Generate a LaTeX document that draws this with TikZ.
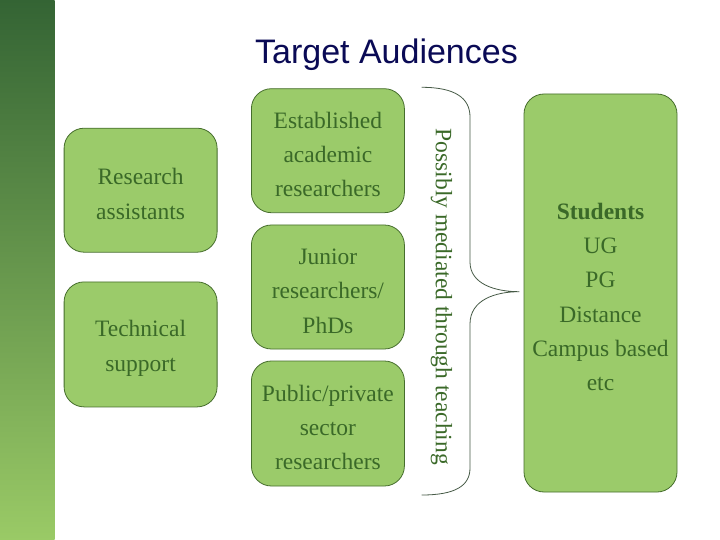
\documentclass[tikz,border=0pt]{standalone}
\usepackage{fontspec}
\setmainfont{Liberation Serif}
\newfontfamily\titlefont{Liberation Sans}
\definecolor{barTop}{RGB}{52,100,52}
\definecolor{barBot}{RGB}{154,202,102}
\definecolor{boxFill}{RGB}{155,203,106}
\definecolor{boxLine}{RGB}{70,110,45}
\definecolor{boxText}{RGB}{58,105,40}
\definecolor{titleCol}{RGB}{10,10,85}
\definecolor{braceCol}{RGB}{70,90,70}
\newcommand{\tallstrut}{\rule{0pt}{24pt}}
\begin{document}
\begin{tikzpicture}[x=1pt,y=-1pt,
  gbox/.style={draw=boxLine, line width=0.8pt, fill=boxFill, rounded corners=20pt,
    text=boxText, align=center, inner sep=0pt,
    font=\fontsize{23.5}{34.3}\selectfont},
  small/.style={gbox, minimum width=153pt, minimum height=124pt},
  bracepath/.style={draw=braceCol, line width=0.8pt}]
\useasboundingbox (0,0) rectangle (720,540);
\fill[white] (0,0) rectangle (720,540);
% left bar
\shade[top color=barTop, bottom color=barBot, middle color={barTop!50!barBot}] (0,0) rectangle (54.5,540);
% title
\node[anchor=base, text=titleCol, font=\titlefont\fontsize{34}{40}\selectfont, inner sep=0pt] (title) at (386.5,63.3) {Target Audiences};
% boxes
\node[small] (ra) at (140.6,190.2) {\tallstrut Research\\assistants};
\node[small, minimum height=125pt] (ts) at (140.6,344.4) {\tallstrut Technical\\support};
\node[small] (ea) at (327.9,150.7) {\tallstrut Established\\academic\\researchers};
\node[small] (jr) at (327.9,287) {\tallstrut Junior\\researchers/\\PhDs};
\node[small, minimum height=125pt] (pp) at (327.9,423.5) {\tallstrut Public/private\\sector\\researchers};
\node[gbox, minimum width=153pt, minimum height=398pt] (st) at (600.5,293) {\tallstrut\textbf{Students}\\UG\\PG\\Distance\\Campus based\\etc};
% brace
\coordinate (btop) at (421.7,87.3);
\coordinate (btip) at (519.3,291.7);
\coordinate (bbot) at (421.7,495);
\draw[bracepath] (btop) .. controls (455,87.3) and (470,98) .. (470,117)
  -- (470,262) .. controls (470,284) and (495,291.7) .. (btip)
  .. controls (495,291.7) and (470,300) .. (470,324)
  -- (470,468) .. controls (470,486) and (455,495) .. (bbot);
\node[rotate=-90, text=boxText, font=\fontsize{23.5}{28}\selectfont, inner sep=0pt] (vt) at (441.5,296.7) {Possibly mediated through teaching};
\end{tikzpicture}
\end{document}
